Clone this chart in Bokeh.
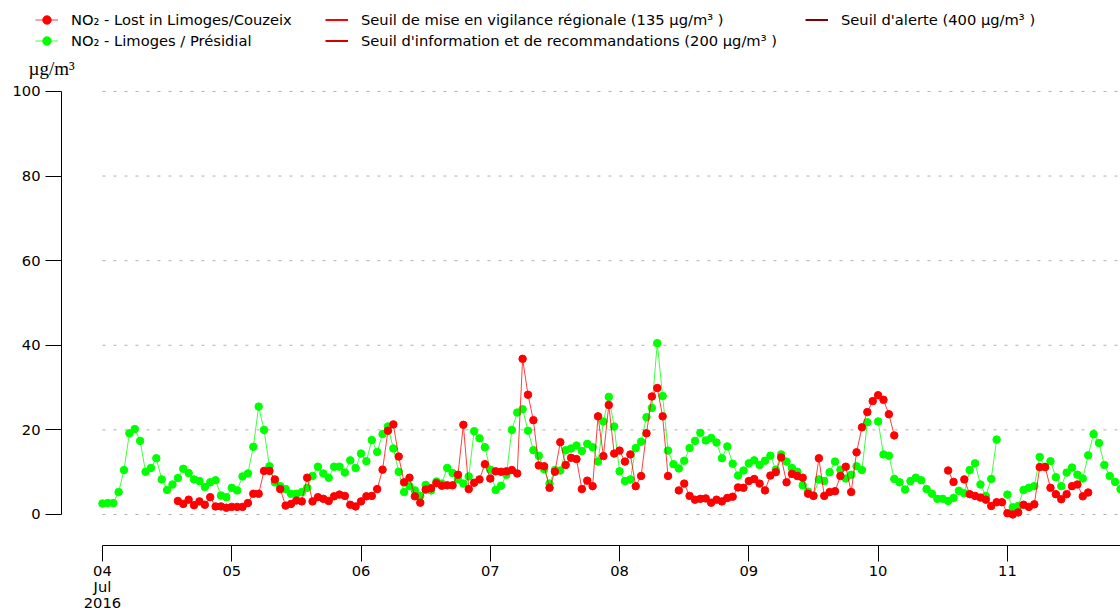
import numpy as np
import pandas as pd
from bokeh.plotting import figure
from bokeh.models import (Range1d, DatetimeAxis, LinearAxis, FixedTicker,
                          DatetimeTickFormatter, Legend, LegendItem, Label,
                          ColumnDataSource)
from bokeh.embed import file_html
from bokeh.resources import INLINE

# Hourly NO2 concentrations (µg/m³), starting 2016-07-04 00:00
start = "2016-07-04 00:00"

couzeix = [
    None, None, None, None, None, None, None, None, None, None, None, None, None, None,
    3.2, 2.5, 3.5, 2.2, 3.1, 2.3, 4.1, 1.9, 1.9, 1.6,
    1.8, 1.8, 1.8, 2.7, 4.9, 4.9, 10.3, 10.3, 8.3, 6.0, 2.1, 2.5,
    3.3, 3.1, 8.7, 3.1, 4.1, 3.7, 3.2, 4.3, 4.7, 4.4, 2.3, 1.9,
    3.1, 4.3, 4.4, 6.0, 10.6, 19.8, 21.3, 13.7, 7.6, 8.7, 4.3, 2.8,
    5.9, 6.2, 7.4, 6.8, 6.9, 6.9, 9.4, 21.2, 6.0, 7.5, 8.3, 11.9,
    8.5, 10.2, 10.1, 10.2, 10.5, 9.7, 36.8, 28.3, 22.3, 11.6, 11.4, 6.3,
    10.1, 17.1, 11.7, 13.4, 13.1, 6.0, 8.0, 6.7, 23.2, 13.8, 25.9, 14.4,
    15.1, 12.5, 14.2, 6.7, 9.1, 19.2, 27.9, 29.9, 23.2, 9.1, None, 5.7,
    7.3, 4.4, 3.5, 3.7, 3.8, 2.8, 3.5, 3.1, 3.9, 4.2, 6.4, 6.3,
    7.9, 8.4, 7.3, 5.7, 9.2, 10.0, 13.5, 7.6, 9.6, 9.1, 8.7, 4.9,
    4.4, 13.3, 4.4, 5.3, 5.5, 9.1, 11.3, 5.3, 14.7, 20.6, 24.2, 26.8,
    28.2, 27.1, 23.7, 18.7, None, None, None, None, None, None, None, None,
    None, 10.4, 7.7, None, 8.3, 4.8, 4.4, 4.0, 3.5, 2.0, 2.9, 2.9,
    0.3, 0.0, 0.5, 2.3, 1.8, 2.4, 11.2, 11.2, 6.3, 4.8, 3.6, 4.8,
    6.7, 7.1, 4.3, 5.2, None, None, None, None, None, None,
]

presidial = [
    2.6, 2.7, 2.7, 5.3, 10.5, 19.2, 20.2, 17.4, 10.1, 11.0, 13.3, 8.3,
    5.8, 7.1, 8.6, 10.8, 9.8, 8.3, 7.9, 6.5, 7.6, 8.1, 4.5, 4.1,
    6.3, 5.7, 9.0, 9.7, 16.0, 25.5, 20.0, 11.4, 7.6, 6.7, 6.0, 4.9,
    4.9, 5.3, 6.3, 9.1, 11.3, 9.7, 8.7, 11.3, 11.3, 9.9, 12.8, 11.0,
    14.4, 12.6, 17.6, 14.8, 19.0, 20.8, 15.6, 10.1, 5.3, 6.7, 5.7, 4.4,
    7.0, 5.7, 7.8, 7.3, 11.0, 9.8, 8.3, 7.3, 9.0, 19.7, 18.0, 15.9,
    10.6, 5.8, 6.8, 9.4, 20.0, 24.1, 24.9, 19.8, 15.2, 13.9, 10.7, 7.3,
    10.5, 10.4, 15.2, 15.6, 16.3, 15.0, 16.7, 15.9, 12.5, 22.0, 27.8, 20.8,
    10.2, 7.9, 8.3, 15.7, 17.2, 23.0, 25.2, 40.5, 28.0, 15.1, 11.9, 10.9,
    12.7, 15.7, 17.4, 19.3, 17.5, 18.1, 17.0, 13.3, 16.1, 12.0, 9.2, 10.4,
    12.1, 12.8, 11.7, 12.7, 13.9, 10.6, 14.2, 12.5, 11.0, 10.1, 6.9, 5.4,
    4.5, 8.3, 7.9, 10.0, 12.5, 10.6, 8.5, 9.4, 11.4, 10.5, 21.8, None,
    22.0, 14.2, 13.9, 8.4, 7.6, 5.9, 7.9, 8.7, 8.1, 6.0, 4.9, 3.7,
    3.7, 3.2, 3.9, 5.6, 5.0, 10.5, 12.1, 7.1, 4.4, 8.4, 17.7, None,
    4.7, 1.7, 2.0, 5.8, 6.3, 6.7, 13.6, 11.3, 12.6, 8.8, 6.7, 9.9,
    11.1, 9.4, 8.5, 14.0, 19.0, 16.9, 11.7, 9.1, 7.7, 6.0,
]

thresholds = [135, 200, 400]
threshold_labels = [
    "Seuil de mise en vigilance régionale (135 µg/m³ )",
    "Seuil d'information et de recommandations (200 µg/m³ )",
    "Seuil d'alerte (400 µg/m³ )",
]
threshold_colors = ["#ff0000", "#d40000", "#7f0000"]

y_ticks = [0, 20, 40, 60, 80, 100]
day_labels = ["04\nJul\n2016", "05", "06", "07", "08", "09", "10", "11"]

HOUR = 3600 * 1000
t0 = pd.Timestamp(start).value // 10**6
times = [t0 + i * HOUR for i in range(len(presidial))]
t_end = times[-1]
day_ticks = [t0 + 24 * HOUR * i for i in range(len(day_labels))]

FONT = "DejaVu Sans"
FS = "14.7px"

p = figure(frame_width=1120, frame_height=545, min_border=0,
           x_axis_type=None, y_axis_type=None,
           toolbar_location=None, output_backend="svg",
           x_range=Range1d(t0 - 18.93 * HOUR, t_end),
           y_range=Range1d(-7.33, 121.5))
p.outline_line_color = None
p.background_fill_color = "white"
p.border_fill_color = "white"

# x axis: one tick per day, starting at the first measurement
xaxis = DatetimeAxis(ticker=FixedTicker(ticks=day_ticks),
                     formatter=DatetimeTickFormatter(days="%d", hours="%d", hourmin="%d",
                                                     months="%d", years="%d"),
                     bounds=(t0, t_end))
xaxis.major_label_overrides = {day_ticks[0]: day_labels[0]}
xaxis.axis_line_color = "black"
xaxis.major_tick_line_color = "black"
xaxis.major_tick_out = 16
xaxis.major_tick_in = 0
xaxis.minor_tick_line_color = None
xaxis.major_label_standoff = 0
xaxis.major_label_text_font = FONT
xaxis.major_label_text_font_size = FS
xaxis.major_label_text_line_height = 0.95
xaxis.major_label_text_color = "black"
p.add_layout(xaxis, "below")

# y axis, detached to the left of the data
yaxis = LinearAxis(ticker=FixedTicker(ticks=y_ticks), bounds=(0, 100),
                   fixed_location=t0 - 7.61 * HOUR)
yaxis.axis_line_color = "black"
yaxis.major_tick_line_color = "black"
yaxis.major_tick_out = 16
yaxis.major_tick_in = 0
yaxis.minor_tick_line_color = None
yaxis.major_label_standoff = 5
yaxis.major_label_text_font = FONT
yaxis.major_label_text_font_size = FS
yaxis.major_label_text_color = "black"
p.add_layout(yaxis, "left")

# dotted horizontal guides at each y tick
p.segment(x0=[t0] * len(y_ticks), x1=[t_end] * len(y_ticks), y0=y_ticks, y1=y_ticks,
          line_color="#b0b0b0", line_width=1, line_dash="3 8", level="underlay")

# threshold levels (off the visible scale)
thr_renderers = []
for v, c in zip(thresholds, threshold_colors):
    thr_renderers.append(p.line([t0, t_end], [v, v], line_color=c, line_width=2))

src_c = ColumnDataSource(dict(t=times, v=np.array(couzeix, dtype=float)))
src_p = ColumnDataSource(dict(t=times, v=np.array(presidial, dtype=float)))

rl_p = p.line("t", "v", source=src_p, line_color="#00ff00", line_alpha=0.75, line_width=1)
rs_p = p.scatter("t", "v", source=src_p, size=7.5, fill_color="#00ff00", line_color="#00ff00")
rl_c = p.line("t", "v", source=src_c, line_color="#ff0000", line_alpha=0.75, line_width=1)
rs_c = p.scatter("t", "v", source=src_c, size=7.5, fill_color="#ff0000", line_color="#ff0000")


def make_legend(items, loc):
    lg = Legend(items=items, location=loc, orientation="vertical",
                glyph_width=23, glyph_height=21, label_height=21, label_standoff=13,
                spacing=0, padding=0, margin=0,
                label_text_font=FONT, label_text_font_size=FS, label_text_color="black",
                border_line_color=None, background_fill_alpha=0)
    p.add_layout(lg)
    return lg


make_legend([LegendItem(label="NO₂ - Lost in Limoges/Couzeix", renderers=[rl_c, rs_c]),
             LegendItem(label="NO₂ - Limoges / Présidial", renderers=[rl_p, rs_p])],
            (35, 494.5))
make_legend([LegendItem(label=threshold_labels[0], renderers=[thr_renderers[0]]),
             LegendItem(label=threshold_labels[1], renderers=[thr_renderers[1]])],
            (325, 494.5))
make_legend([LegendItem(label=threshold_labels[2], renderers=[thr_renderers[2]])],
            (805, 515.5))

p.add_layout(Label(x=t0 - 13.74 * HOUR, y=105.4, text="µg/m³",
                   text_font="Liberation Serif", text_font_size="19px",
                   text_color="black", text_baseline="alphabetic"))

open("out.html", "w").write(file_html(p, INLINE))
